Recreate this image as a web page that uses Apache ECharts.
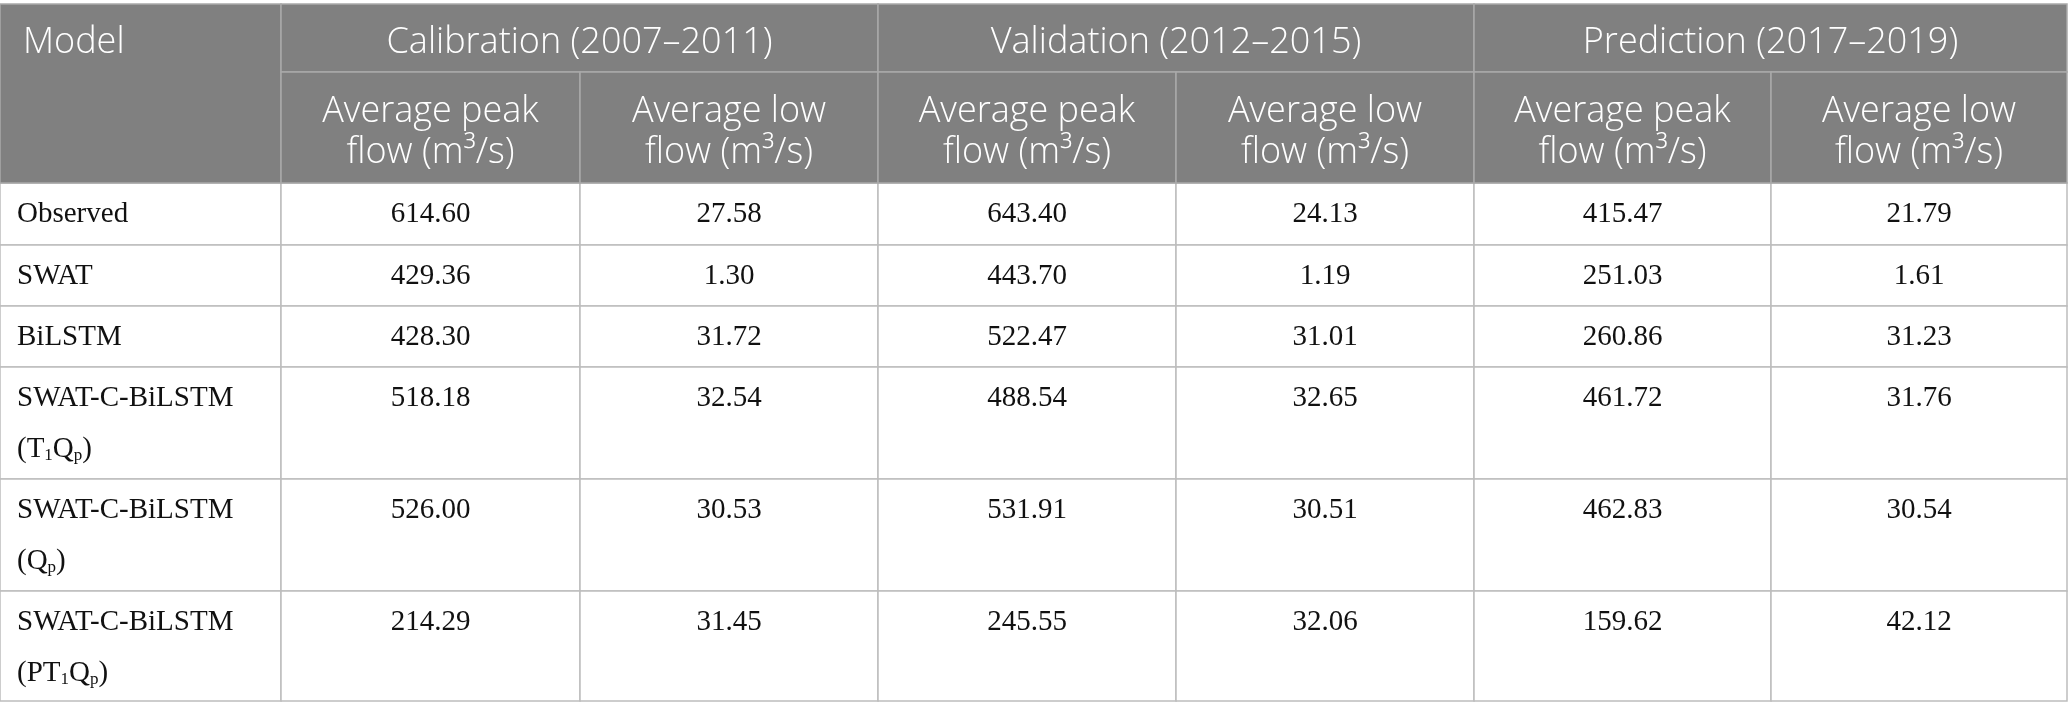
<!DOCTYPE html>
<html><head><meta charset="utf-8">
<script src="https://cdn.jsdelivr.net/npm/echarts@6/dist/echarts.min.js"></script>
<style>html,body{margin:0;padding:0;background:#fff}#c{width:2068px;height:720px}</style>
</head><body><div id="c"></div>
<script>
// ---- content ----
const headerFirst = 'Model';
const periods = ['Calibration (2007–2011)', 'Validation (2012–2015)', 'Prediction (2017–2019)'];
const metrics = ['Average peak\nflow (m³/s)', 'Average low\nflow (m³/s)'];
const models = [
  'Observed',
  'SWAT',
  'BiLSTM',
  'SWAT-C-BiLSTM\n(T{sub|1}Q{sub|p})',
  'SWAT-C-BiLSTM\n(Q{sub|p})',
  'SWAT-C-BiLSTM\n(PT{sub|1}Q{sub|p})'
];
const calPeak  = [614.60, 429.36, 428.30, 518.18, 526.00, 214.29];
const calLow   = [27.58, 1.30, 31.72, 32.54, 30.53, 31.45];
const valPeak  = [643.40, 443.70, 522.47, 488.54, 531.91, 245.55];
const valLow   = [24.13, 1.19, 31.01, 32.65, 30.51, 32.06];
const predPeak = [415.47, 251.03, 260.86, 461.72, 462.83, 159.62];
const predLow  = [21.79, 1.61, 31.23, 31.76, 30.54, 42.12];
const valueColumns = [calPeak, calLow, valPeak, valLow, predPeak, predLow];

// ---- layout ----
const colWidths = [281, 299, 298, 298, 298, 297, 296];
const headRowHeights = [68, 111];
const bodyRowHeights = [62, 61, 61, 112, 112, 110];
const rowHeights = headRowHeights.concat(bodyRowHeights);
const colEdges = [0]; colWidths.forEach(w => colEdges.push(colEdges[colEdges.length - 1] + w));
const rowEdges = [0]; rowHeights.forEach(h => rowEdges.push(rowEdges[rowEdges.length - 1] + h));
const totalW = colEdges[colEdges.length - 1];
const totalH = rowEdges[rowEdges.length - 1];

const HEAD_BG = '#808080', HEAD_LINE = '#a9a9a9', BODY_LINE = '#bdbdbd';
const HEAD_FONT = '"Open Sans", "Noto Sans", sans-serif';
const BODY_FONT = '"Liberation Serif", "DejaVu Serif", serif';

// header cells: [colStart, colSpan, rowStart, rowSpan, text, align]
const headCells = [[0, 1, 0, 2, headerFirst, 'left']];
periods.forEach((p, i) => headCells.push([1 + 2 * i, 2, 0, 1, p, 'center']));
periods.forEach((p, i) => metrics.forEach((m, j) => headCells.push([1 + 2 * i + j, 1, 1, 1, m, 'center'])));

// body cells: [col, bodyRow, text]
const bodyCells = [];
models.forEach((m, r) => {
  bodyCells.push([0, r, m]);
  valueColumns.forEach((col, c) => bodyCells.push([c + 1, r, col[r].toFixed(2)]));
});

function cellRect(api, c0, c1, r0, r1) {
  const p0 = api.coord([colEdges[c0], rowEdges[r0]]);
  const p1 = api.coord([colEdges[c1], rowEdges[r1]]);
  return { x: p0[0], y: p0[1], width: p1[0] - p0[0], height: p1[1] - p0[1] };
}

const chart = echarts.init(document.getElementById('c'), null, { renderer: 'canvas' });
chart.setOption({
  animation: false,
  grid: { left: 0, top: 4, width: totalW, height: totalH },
  xAxis: { type: 'value', min: 0, max: totalW, show: false },
  yAxis: { type: 'value', min: 0, max: totalH, inverse: true, show: false },
  series: [
    {
      type: 'custom',
      coordinateSystem: 'cartesian2d',
      data: bodyCells,
      silent: true,
      renderItem: function (params, api) {
        const d = bodyCells[params.dataIndex];
        const r = d[1] + headRowHeights.length;
        const rc = cellRect(api, d[0], d[0] + 1, r, r + 1);
        const isLabel = d[0] === 0;
        return {
          type: 'group',
          children: [
            { type: 'rect', shape: rc, style: { fill: '#ffffff', stroke: BODY_LINE, lineWidth: 1.5 } },
            { type: 'text', style: {
                x: isLabel ? rc.x + 17 : rc.x + rc.width / 2,
                y: rc.y + 6,
                text: d[2],
                align: isLabel ? 'left' : 'center',
                verticalAlign: 'top',
                fill: '#111111',
                fontFamily: BODY_FONT,
                fontSize: 29,
                lineHeight: 51,
                rich: {
                  sub: { fontFamily: BODY_FONT, fontSize: 17, lineHeight: 20, padding: [13, 0, 0, 0], fill: '#111111' }
                }
            } }
          ]
        };
      }
    },
    {
      type: 'custom',
      coordinateSystem: 'cartesian2d',
      data: headCells,
      silent: true,
      renderItem: function (params, api) {
        const d = headCells[params.dataIndex];
        const rc = cellRect(api, d[0], d[0] + d[1], d[2], d[2] + d[3]);
        const left = d[5] === 'left';
        const firstRowRc = cellRect(api, d[0], d[0] + d[1], d[2], d[2] + 1);
        return {
          type: 'group',
          children: [
            { type: 'rect', shape: rc, style: { fill: HEAD_BG, stroke: HEAD_LINE, lineWidth: 1.5 } },
            { type: 'text', style: {
                x: left ? rc.x + 23 : rc.x + rc.width / 2,
                y: left ? firstRowRc.y + firstRowRc.height / 2 + 5 : rc.y + rc.height / 2 + 5,
                text: d[4],
                align: left ? 'left' : 'center',
                verticalAlign: 'middle',
                fill: '#ffffff',
                fontFamily: HEAD_FONT,
                fontWeight: 300,
                fontSize: 36,
                lineHeight: 41
            } }
          ]
        };
      }
    }
  ]
});
</script></body></html>
